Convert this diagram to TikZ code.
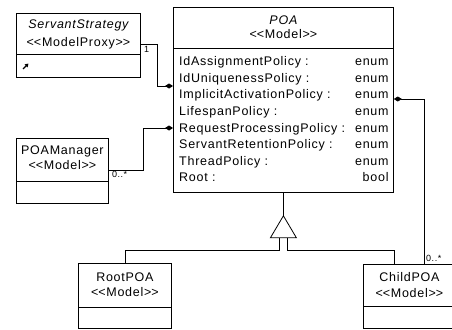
\documentclass[tikz,border=0pt]{standalone}
\usepackage{fontspec}
\setmainfont{Liberation Sans}[Ligatures=TeXOff, LetterSpace=6]
\usepackage{tikz}
\usetikzlibrary{arrows.meta, positioning}

\newcommand{\umlsep}[2]{\draw[link] ([yshift=-#2pt]#1.north west) -- ([yshift=-#2pt]#1.north east);}
\newcommand{\stereo}[1]{\textless\kern0pt\textless #1\textgreater\kern0pt\textgreater}

\begin{document}
\begin{tikzpicture}[x=1pt, y=-1pt,
	link/.style={line width=0.8pt, black},
	owner/.style={link, -{Diamond[length=8pt, width=5pt]}},
	classbox/.style={link, draw, fill=white, inner sep=0pt, anchor=north west},
	ctext/.style={inner sep=0pt, text height=9.5pt, text depth=2.5pt, font=\fontsize{12.5}{14}\selectfont},
	mult/.style={inner sep=0pt, font=\fontsize{9}{10}\selectfont}
]

\clip (0,0) rectangle (452,329); % picture frame

\def \rowh{16.6} % height of one attribute row
\def \rowtop{58.7} % first attribute baseline below the top of POA

% class boxes
\node[classbox, minimum width=124pt, minimum height=64pt] (servant)  at (16,13)  {};
\node[classbox, minimum width=220pt, minimum height=185pt] (poa)     at (173,7)  {};
\node[classbox, minimum width=92pt,  minimum height=65pt] (manager)  at (16,138) {};
\node[classbox, minimum width=93pt,  minimum height=65pt] (rootpoa)  at (78,263) {};
\node[classbox, minimum width=92pt,  minimum height=64pt] (childpoa) at (363,264) {}; % runs past the right edge

\umlsep{servant}{41}
\umlsep{poa}{41}
\umlsep{manager}{43}
\umlsep{rootpoa}{44}
\umlsep{childpoa}{42}

% names and stereotypes
\node[ctext, below=6pt of servant.north, font=\fontsize{12.5}{14}\selectfont\itshape] (servant name) {ServantStrategy};
\node[ctext, below=5.5pt of servant name] (servant stereo) {\stereo{ModelProxy}};

\node[ctext, below=7.5pt of poa.north, font=\fontsize{12.5}{14}\selectfont\itshape] (poa name) {POA};
\node[ctext, below=1.5pt of poa name] (poa stereo) {\stereo{Model}};

\node[ctext, below=7pt of manager.north] (manager name) {POAManager};
\node[ctext, below=2pt of manager name] (manager stereo) {\stereo{Model}};

\node[ctext, below=9pt of rootpoa.north] (rootpoa name) {RootPOA};
\node[ctext, below=2.5pt of rootpoa name] (rootpoa stereo) {\stereo{Model}};

\node[ctext, below=7.5pt of childpoa.north] (childpoa name) {ChildPOA};
\node[ctext, below=3.5pt of childpoa name] (childpoa stereo) {\stereo{Model}};

% attributes of POA
\foreach \attr/\type [count=\i] in {IdAssignmentPolicy/enum, IdUniquenessPolicy/enum,
	ImplicitActivationPolicy/enum, LifespanPolicy/enum, RequestProcessingPolicy/enum,
	ServantRetentionPolicy/enum, ThreadPolicy/enum, Root/bool} {
	\pgfmathsetmacro{\yb}{\rowtop + (\i - 1) * \rowh}
	\path (poa.north west) ++(6, \yb) node[ctext, anchor=base west] (poa attr \i) {\attr{} :}; % name
	\path (poa.north east) ++(-5, \yb) node[ctext, anchor=base east] (poa type \i) {\type}; % type
}

% operation icon of ServantStrategy
\draw[line width=1.3pt, -{Triangle[length=3.5pt, width=4pt]}] (23,69) -- (28.5,63.5);

% associations
\coordinate (servant link) at ([yshift=-31pt]servant.north east);
\coordinate (poa servant)  at ([yshift=-79pt]poa.north west);
\draw[owner] (servant link) -- ++(17,0) |- (poa servant);
\node[mult, anchor=north west] (servant mult) at ([xshift=3pt, yshift=-2pt]servant link) {1};

\coordinate (manager link) at ([yshift=-32pt]manager.north east);
\coordinate (poa manager)  at ([yshift=-121pt]poa.north west);
\draw[owner] (manager link) -- ++(35,0) |- (poa manager);
\node[mult, anchor=north west] (manager mult) at ([xshift=3pt, yshift=-1pt]manager link) {0..*};

\coordinate (child link) at ([xshift=61pt]childpoa.north west);
\coordinate (poa child)  at ([yshift=-92pt]poa.north east);
\draw[owner] (child link) |- (poa child);
\node[mult, anchor=south west] (child mult) at ([xshift=2pt, yshift=2pt]child link) {0..*};

% generalization
\coordinate (gen tip)  at ([yshift=-23pt]poa.south);
\coordinate (gen base) at ([yshift=-22pt]gen tip);
\draw[link] (poa.south) -- (gen tip);
\draw[link] (gen tip) -- ([xshift=-13pt]gen base) -- ([xshift=13pt]gen base) -- cycle;
\draw[link] (rootpoa.north) |- ([xshift=-4pt, yshift=-13pt]gen base) -- ([xshift=-4pt]gen base);
\draw[link] ([xshift=31pt]childpoa.north west) |- ([xshift=4pt, yshift=-13pt]gen base) -- ([xshift=4pt]gen base);

\end{tikzpicture}
\end{document}
